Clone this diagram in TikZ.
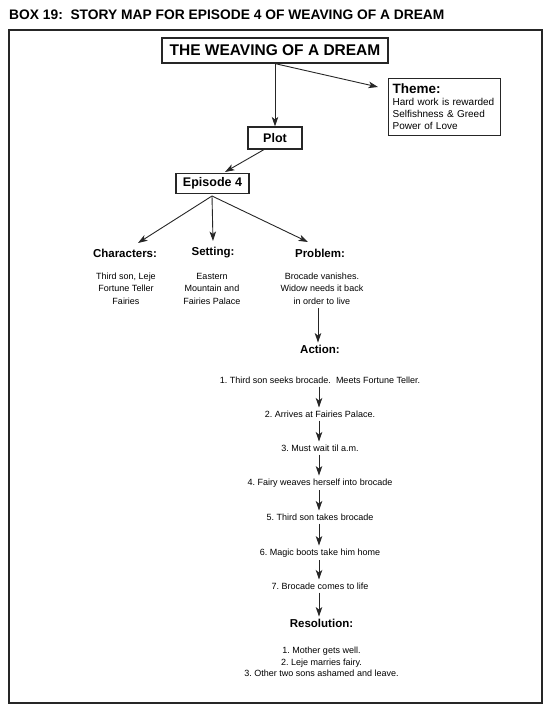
\documentclass[tikz,border=0pt]{standalone}
\usepackage{fontspec}
\setmainfont{Liberation Sans}
\usetikzlibrary{arrows.meta}
\frenchspacing
\begin{document}
\begin{tikzpicture}[x=1bp,y=-1bp,
  box/.style={draw=black!85, line width=1.2bp, inner sep=0pt},
  arr/.style={-{Stealth[length=9.5bp,width=6.5bp,inset=2.5bp]}, line width=0.9bp, draw=black!85},
  bighead/.style={font=\bfseries\fontsize{15.5bp}{17bp}\selectfont},
  midhead/.style={font=\bfseries\fontsize{12.5bp}{14bp}\selectfont},
  lbl/.style={font=\bfseries\fontsize{11.5bp}{13bp}\selectfont, inner sep=2bp},
  small/.style={font=\fontsize{9bp}{12.5bp}\selectfont, align=center, inner sep=2bp},
  item/.style={font=\fontsize{9bp}{11bp}\selectfont, inner sep=3bp}
]
\useasboundingbox (0,0) rectangle (550,710);
% heading
\node[anchor=west, inner sep=0pt, font=\bfseries\fontsize{13.8bp}{15bp}\selectfont] (hdr) at (9,14.5)
  {BOX 19:\ \ STORY MAP FOR EPISODE 4 OF WEAVING OF A DREAM};
% frame
\node[draw=black!85, line width=1.6bp, minimum width=533bp, minimum height=673bp, anchor=north west, inner sep=0pt] (frame) at (8,29) {};
% title
\node[box, bighead, minimum width=226bp, minimum height=25bp] (title) at (275,50.5) {THE WEAVING OF A DREAM};
% theme
\node[box, anchor=north west, text width=104bp, inner xsep=4bp, inner ysep=3bp, minimum height=57bp, align=left,
  font=\fontsize{10bp}{12bp}\selectfont] (theme) at (388,78)
  {{\bfseries\fontsize{13.5bp}{14bp}\selectfont Theme:}\\Hard work is rewarded\\Selfishness \& Greed\\Power of Love};
% plot
\node[box, midhead, minimum width=54bp, minimum height=22bp] (plot) at (275,138) {Plot};
% episode
\node[box, midhead, minimum width=73bp, minimum height=20bp] (ep) at (212.5,183.5) {Episode 4};
% arrows top
\coordinate (themetip) at (378,87);
\draw[arr] (title.south) -- (plot.north);
\draw[arr] (title.south) -- (themetip);
\coordinate (plotout) at (265,149);
\coordinate (eptip) at (225,172);
\draw[arr] (plotout) -- (eptip);
% categories
\node[lbl] (chars) at (125,253) {Characters:};
\node[lbl] (setting) at (213,253) {Setting:};
\node[lbl] (problem) at (320,253) {Problem:};
\coordinate (epout) at (212,196);
\coordinate (ctip) at (138,243);
\coordinate (stip) at (213,241);
\coordinate (ptip) at (308,242);
\draw[arr] (epout) -- (ctip);
\draw[arr] (epout) -- (stip);
\draw[arr] (epout) -- (ptip);
\node[small] (chartxt) at (126,288.5) {Third son, Leje\\Fortune Teller\\Fairies};
\node[small] (settxt) at (212,288.5) {Eastern\\Mountain and\\Fairies Palace};
\node[small] (probtxt) at (322,288.5) {Brocade vanishes.\\Widow needs it back\\in order to live};
% action
\node[lbl] (action) at (320,349) {Action:};
\coordinate (probout) at (318,308);
\draw[arr] (probout) -- (action.north -| probout);
\node[item] (a1) at (320,380) {1. Third son seeks brocade.\ \ Meets Fortune Teller.};
\node[item] (a2) at (320,414) {2. Arrives at Fairies Palace.};
\node[item] (a3) at (320,448) {3. Must wait til a.m.};
\node[item] (a4) at (320,483) {4. Fairy weaves herself into brocade};
\node[item] (a5) at (320,517) {5. Third son takes brocade};
\node[item] (a6) at (320,553) {6. Magic boots take him home};
\node[item] (a7) at (320,586) {7. Brocade comes to life};
\node[lbl] (resol) at (321.5,623) {Resolution:};
\foreach \p/\q in {a1/a2,a2/a3,a3/a4,a4/a5,a5/a6,a6/a7,a7/resol}
  \draw[arr] ([xshift=-1bp]\p.south) -- ([xshift=-1bp]\p.south |- \q.north);
\node[small, font=\fontsize{9bp}{11.5bp}\selectfont] (restxt) at (321.5,662) {1. Mother gets well.\\2. Leje marries fairy.\\3. Other two sons ashamed and leave.};
\end{tikzpicture}
\end{document}
